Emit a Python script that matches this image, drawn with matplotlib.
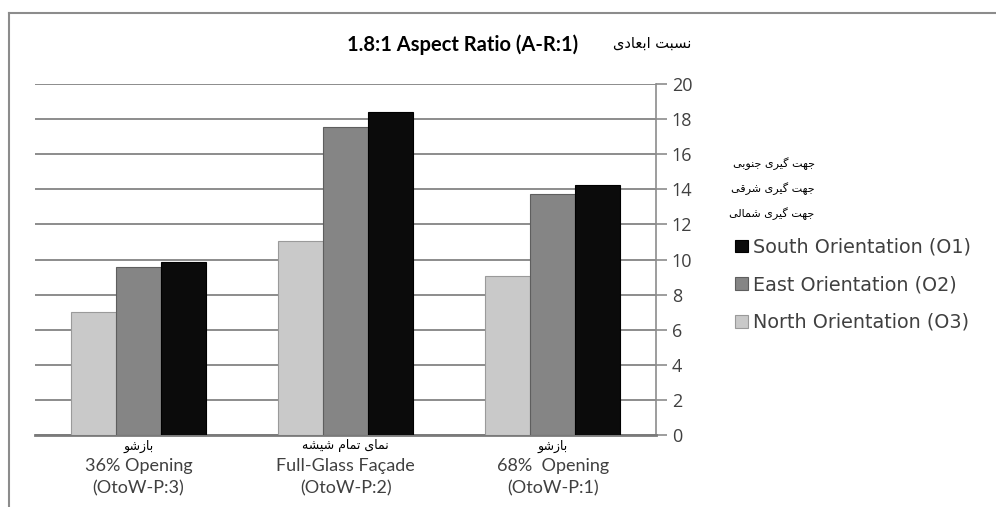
import matplotlib
matplotlib.use("Agg")
import matplotlib.pyplot as plt
import numpy as np
from matplotlib.lines import Line2D

# ---------------- data ----------------
categories = ["36% Opening\n(OtoW-P:3)", "Full-Glass Façade\n(OtoW-P:2)", "68%  Opening\n(OtoW-P:1)"]
categories_fa = ["بازشو", "نمای تمام شیشه", "بازشو"]
north = [7.0, 11.05, 9.06]
east = [9.57, 17.55, 13.75]
south = [9.86, 18.4, 14.25]
series_names = ["North Orientation (O3)", "East Orientation (O2)", "South Orientation (O1)"]
series_fa = ["جهت گیری جنوبی", "جهت گیری شرقی", "جهت گیری شمالی"]
title = "1.8:1 Aspect Ratio (A-R:1)"
title_fa = "نسبت ابعادی"
yticks = [0, 2, 4, 6, 8, 10, 12, 14, 16, 18, 20]

# ---------------- simple Arabic/Persian shaping ----------------
FORMS = {
    'ا': ('\uFE8D', '\uFE8E', None, None),
    'ب': ('\uFE8F', '\uFE90', '\uFE91', '\uFE92'),
    'ت': ('\uFE95', '\uFE96', '\uFE97', '\uFE98'),
    'ج': ('\uFE9D', '\uFE9E', '\uFE9F', '\uFEA0'),
    'د': ('\uFEA9', '\uFEAA', None, None),
    'ر': ('\uFEAD', '\uFEAE', None, None),
    'ز': ('\uFEAF', '\uFEB0', None, None),
    'س': ('\uFEB1', '\uFEB2', '\uFEB3', '\uFEB4'),
    'ش': ('\uFEB5', '\uFEB6', '\uFEB7', '\uFEB8'),
    'ع': ('\uFEC9', '\uFECA', '\uFECB', '\uFECC'),
    'ق': ('\uFED5', '\uFED6', '\uFED7', '\uFED8'),
    'ل': ('\uFEDD', '\uFEDE', '\uFEDF', '\uFEE0'),
    'م': ('\uFEE1', '\uFEE2', '\uFEE3', '\uFEE4'),
    'ن': ('\uFEE5', '\uFEE6', '\uFEE7', '\uFEE8'),
    'ه': ('\uFEE9', '\uFEEA', '\uFEEB', '\uFEEC'),
    'و': ('\uFEED', '\uFEEE', None, None),
    'ی': ('\uFBFC', '\uFBFD', '\uFBFE', '\uFBFF'),
    'گ': ('\uFB92', '\uFB93', '\uFB94', '\uFB95'),
}


def shape(text):
    out = []
    n = len(text)
    for i, ch in enumerate(text):
        if ch not in FORMS:
            out.append(ch)
            continue
        prev = text[i - 1] if i > 0 else None
        nxt = text[i + 1] if i < n - 1 else None
        join_prev = prev in FORMS and FORMS[prev][2] is not None
        join_next = nxt in FORMS and FORMS[ch][2] is not None
        iso, fin, ini, med = FORMS[ch]
        if join_prev and join_next:
            out.append(med)
        elif join_prev:
            out.append(fin)
        elif join_next:
            out.append(ini)
        else:
            out.append(iso)
    return "".join(out)[::-1]


FA_FONT = ["DejaVu Sans"]
LAT_FONT = ["Lato", "DejaVu Sans"]
plt.rcParams['font.family'] = LAT_FONT

# ---------------- figure ----------------
fig = plt.figure(figsize=(9.96, 5.07), dpi=100)
ax = fig.add_axes([0.035, 0.142, 0.624, 0.692])

x = np.arange(len(categories))
w = 0.217
colors = ["#c9c9c9", "#858585", "#0b0b0b"]
edges = ["#9a9a9a", "#5e5e5e", "#000000"]
for k, (vals, c, e) in enumerate(zip([north, east, south], colors, edges)):
    ax.bar(x + (k - 1) * w, vals, width=w, color=c, edgecolor=e, linewidth=0.8,
           label=series_names[k], zorder=3)

ax.set_xlim(-0.5, 2.5)
ax.set_ylim(0, 20)
ax.set_yticks(yticks)
ax.yaxis.tick_right()
ax.tick_params(axis='y', which='both', direction='out', length=8, width=1.2,
               color='#8c8c8c', labelsize=13, labelcolor='#404040', pad=3)
ax.set_yticklabels([str(v) for v in yticks], family=["Open Sans", "DejaVu Sans"])
ax.grid(axis='y', color='#8c8c8c', linewidth=1.4, zorder=0)
ax.set_xticks([])
for s in ['top', 'left']:
    ax.spines[s].set_visible(False)
ax.spines['right'].set_color('#8c8c8c')
ax.spines['right'].set_linewidth(1.2)
ax.spines['bottom'].set_color('#7a7a7a')
ax.spines['bottom'].set_linewidth(2.0)

# category labels
for i, (lab, fa) in enumerate(zip(categories, categories_fa)):
    ax.text(i, -0.25, shape(fa), ha='center', va='top', fontsize=9,
            family=FA_FONT, color='black', transform=ax.transData)
    ax.text(i, -1.3, lab, ha='center', va='top', fontsize=13,
            color='#404040', linespacing=1.5, transform=ax.transData)

# title
fig.text(0.464, 0.912, title, ha='center', va='center', fontsize=14.5,
         fontweight='bold', color='black')
fig.text(0.655, 0.915, shape(title_fa), ha='center', va='center', fontsize=10.5,
         family=FA_FONT, color='black')

# Persian legend lines
for j, t in enumerate(series_fa):
    fig.text(0.818, 0.678 - j * 0.05, shape(t), ha='right', va='center',
             fontsize=8, family=FA_FONT, color='black')

# legend
handles, labels = ax.get_legend_handles_labels()
leg = ax.legend(handles[::-1], labels[::-1], loc='upper left',
                bbox_to_anchor=(0.738, 0.531), bbox_transform=fig.transFigure,
                frameon=False, prop={'family': 'DejaVu Sans', 'size': 13.8},
                handlelength=0.65, handleheight=0.65,
                handletextpad=0.3, labelspacing=0.97, borderaxespad=0,
                borderpad=0)
for t in leg.get_texts():
    t.set_color('#404040')

# chart border (top and left)
fig.add_artist(Line2D([0.009, 0.009], [0.0, 0.975], transform=fig.transFigure,
                      color='#8c8c8c', linewidth=1.5))
fig.add_artist(Line2D([0.009, 1.0], [0.975, 0.975], transform=fig.transFigure,
                      color='#8c8c8c', linewidth=1.5))

fig.savefig("out.png", dpi=100, facecolor='white')
